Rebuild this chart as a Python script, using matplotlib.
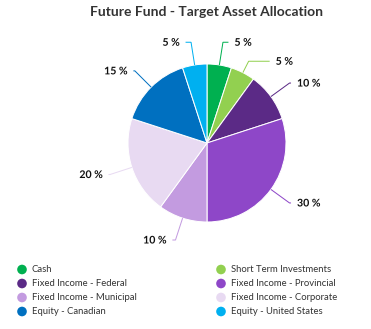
import numpy as np
import matplotlib
matplotlib.use("Agg")
import matplotlib.pyplot as plt
import matplotlib.patheffects as pe

# Portfolio allocation data
categories = [
    "Cash",
    "Short Term Investments",
    "Fixed Income - Federal",
    "Fixed Income - Provincial",
    "Fixed Income - Municipal",
    "Fixed Income - Corporate",
    "Equity - Canadian",
    "Equity - United States",
]
weights = [5, 5, 10, 30, 10, 20, 15, 5]
colors = ["#00b050", "#92d050", "#5b2a86", "#8e47c8",
          "#c39be0", "#e8daf2", "#0070c0", "#00b0f0"]
title = "Future Fund - Target Asset Allocation"

W, H = 371, 329
fig = plt.figure(figsize=(W / 100, H / 100), dpi=100)
ax = fig.add_axes([0, 0, 1, 1])

cx, cy, r = 207.0, 143.0, 79.0
px = 0.72  # one pixel in points

# y axis runs downwards, so "counterclock" in data space is clockwise on screen
ax.pie(weights, colors=colors, startangle=-90, counterclock=True,
       center=(cx, cy), radius=r, frame=True,
       wedgeprops=dict(edgecolor="white", linewidth=1.0 * px))
ax.set_xlim(0, W)
ax.set_ylim(H, 0)
ax.axis("off")

# Mid-angle of each slice, measured clockwise from 12 o'clock
total = float(sum(weights))
cum = np.cumsum([0] + weights)
mid = np.radians((cum[:-1] + np.array(weights) / 2) / total * 360.0)

label_r = 102.0
conn_r = 103.0
min_gap = 19.0

# Natural label heights, then push apart on each side
ys = cy - label_r * np.cos(mid)
right = np.sin(mid) >= 0
for side in (right, ~right):
    idx = [i for i in np.argsort(ys) if side[i]]
    for a, b in zip(idx[:-1], idx[1:]):
        if ys[b] - ys[a] < min_gap:
            ys[b] = ys[a] + min_gap

for i, (w, c) in enumerate(zip(weights, colors)):
    th = mid[i]
    sgn = 1 if right[i] else -1
    ly = ys[i]
    # touching point on the slice edge
    tx, ty = cx + r * np.sin(th), cy - r * np.cos(th)
    # break point on the mid-angle ray at the label's height
    t = (cy - ly) / np.cos(th)
    bx = cx + t * np.sin(th)
    # end of connector on the outer circle
    ex = cx + sgn * np.sqrt(max(conn_r ** 2 - (ly - cy) ** 2, 0))
    if sgn * (ex - bx) < 1.5:
        ex = bx + sgn * 1.5
    ax.plot([tx, bx, ex], [ty, ly, ly], color=c, lw=1.0 * px,
            solid_capstyle="butt", solid_joinstyle="miter", zorder=3)
    ax.text(ex + sgn * 6, ly, f"{w} %", ha="left" if sgn > 0 else "right",
            va="center", fontsize=7.6, fontweight="bold", family="Lato",
            color="#111111", zorder=4,
            path_effects=[pe.withStroke(linewidth=1.5, foreground="white")])

ax.text(207, 12, title, ha="center", va="center", fontsize=10.0,
        fontweight="bold", family="Lato", color="#333333")

# Legend in two columns
col_x = [22, 221]
row_y = [269.5, 283.5, 297.5, 311.5]
for i, (name, c) in enumerate(zip(categories, colors)):
    x = col_x[i % 2]
    y = row_y[i // 2]
    ax.scatter([x], [y], s=48, color=c, edgecolors="none", zorder=3)
    ax.text(x + 10, y, name, ha="left", va="center", fontsize=6.8,
            family="Lato", color="#333333")

fig.savefig("out.png", dpi=100)
